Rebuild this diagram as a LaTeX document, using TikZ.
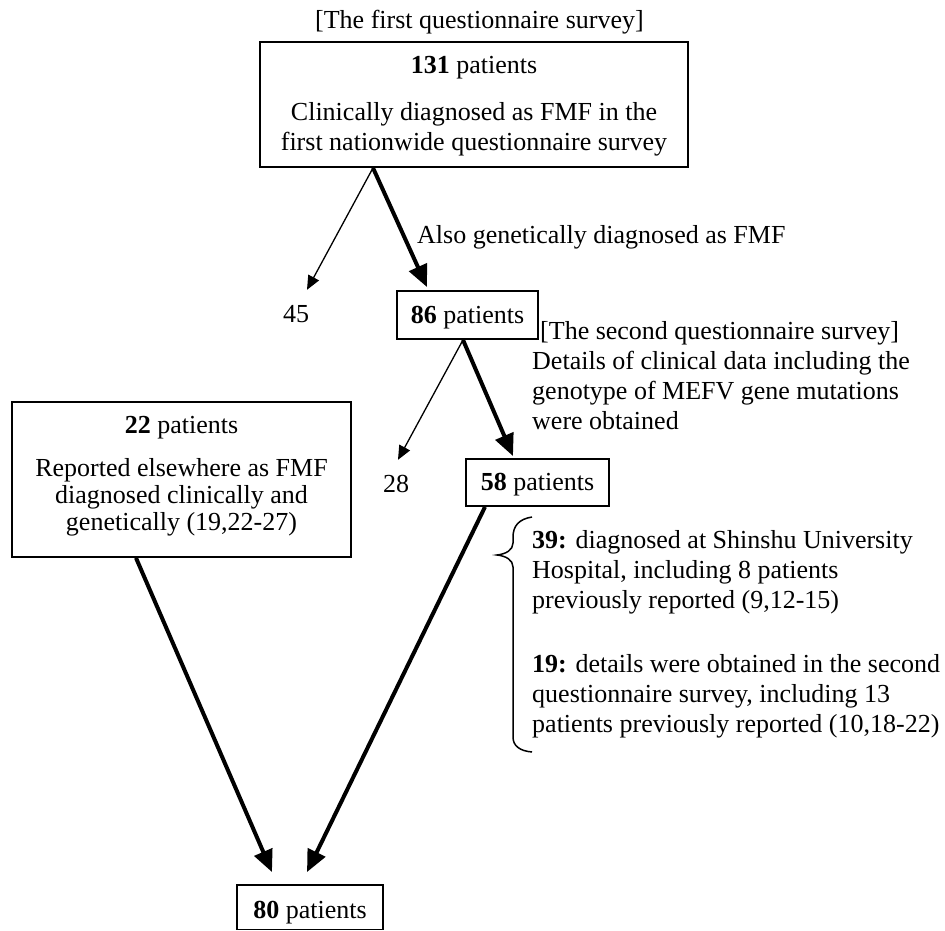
\documentclass[tikz,border=0pt]{standalone}
\usepackage{fontspec}
\setmainfont{Liberation Serif}
\usetikzlibrary{arrows.meta}
\begin{document}
\begin{tikzpicture}[x=1pt,y=-1pt,
  every node/.style={font=\fontsize{26}{30}\selectfont, inner sep=0pt},
  box/.style={draw, line width=1.8pt, anchor=base},
  txt/.style={anchor=base west},
  num/.style={anchor=base, text height=18pt},
  thinarrow/.style={line width=1.3pt, -{Triangle[length=14pt,width=12pt]}},
  thickarrow/.style={line width=4pt, -{Triangle[length=22pt,width=19pt]}},
  bracestyle/.style={line width=1.5pt}
]
\fill[white] (0,0) rectangle (945,931);
\useasboundingbox (0,0) rectangle (945,931);

% top
\node[txt] (title1) at (315,29) {[The first questionnaire survey]};
\node[box, minimum width=428pt, text height=32pt, text depth=93pt] (box131) at (474,74)
 {\begin{tabular}[t]{@{}c@{}}\textbf{131} patients\\[17pt] Clinically diagnosed as FMF in the\\ first nationwide questionnaire survey\end{tabular}};

\node[txt] (also) at (417,243) {Also genetically diagnosed as FMF};
\node[num] (n45) at (296,322) {45};
\node[box, minimum width=141pt, text height=32pt, text depth=16pt] (box86) at (467.5,323) {\textbf{86} patients};

\draw[thinarrow] ([xshift=-101pt]box131.south) -- ([xshift=11pt,yshift=14pt]n45.north);
\draw[thickarrow] ([xshift=-101pt]box131.south) -- ([xshift=-40.5pt,yshift=3pt]box86.north);

% second survey
\node[txt] (second) at (540,339) {[The second questionnaire survey]};
\node[txt] (details) at (532,369) {\begin{tabular}[t]{@{}l@{}}Details of clinical data including the\\ genotype of MEFV gene mutations\\ were obtained\end{tabular}};
\node[num] (n28) at (396,492) {28};
\node[box, minimum width=143pt, text height=31pt, text depth=16pt] (box58) at (537.5,490) {\textbf{58} patients};

\draw[thinarrow] ([xshift=-4.5pt]box86.south) -- ([xshift=2pt,yshift=14pt]n28.north);
\draw[thickarrow] ([xshift=-4.5pt]box86.south) -- ([xshift=-24.5pt,yshift=2pt]box58.north);

% left box
\node[box, minimum width=339pt, text height=31pt, text depth=124pt] (box22) at (181.5,433)
 {\begin{tabular}[t]{@{}c@{}}\textbf{22} patients\\[13pt] Reported elsewhere as FMF\\[-3pt] diagnosed clinically and\\[-3pt] genetically (19,22-27)\end{tabular}};

% brace and its texts
\draw[bracestyle] (532,517) .. controls (519,519) and (513,526) .. (513,537) -- (513,543)
  .. controls (513,550) and (506,554) .. (497,555)
  .. controls (506,556) and (513,560) .. (513,567) -- (513,737)
  .. controls (513,746) and (520,751) .. (532,752);
\node[txt] (b39) at (532,548) {\begin{tabular}[t]{@{}l@{}}\textbf{39:} diagnosed at Shinshu University\\ Hospital, including 8 patients\\ previously reported (9,12-15)\end{tabular}};
\node[txt] (b19) at (532,672) {\begin{tabular}[t]{@{}l@{}}\textbf{19:} details were obtained in the second\\ questionnaire survey, including 13\\ patients previously reported (10,18-22)\end{tabular}};

% bottom
\node[box, minimum width=146pt, text height=33pt, text depth=11.5pt] (box80) at (310,918) {\textbf{80} patients};
\draw[thickarrow] ([xshift=-45.5pt]box22.south) -- ([xshift=-38pt,yshift=12pt]box80.north);
\draw[thickarrow] ([xshift=-52.5pt]box58.south) -- ([xshift=-3pt,yshift=12pt]box80.north);
\end{tikzpicture}
\end{document}
